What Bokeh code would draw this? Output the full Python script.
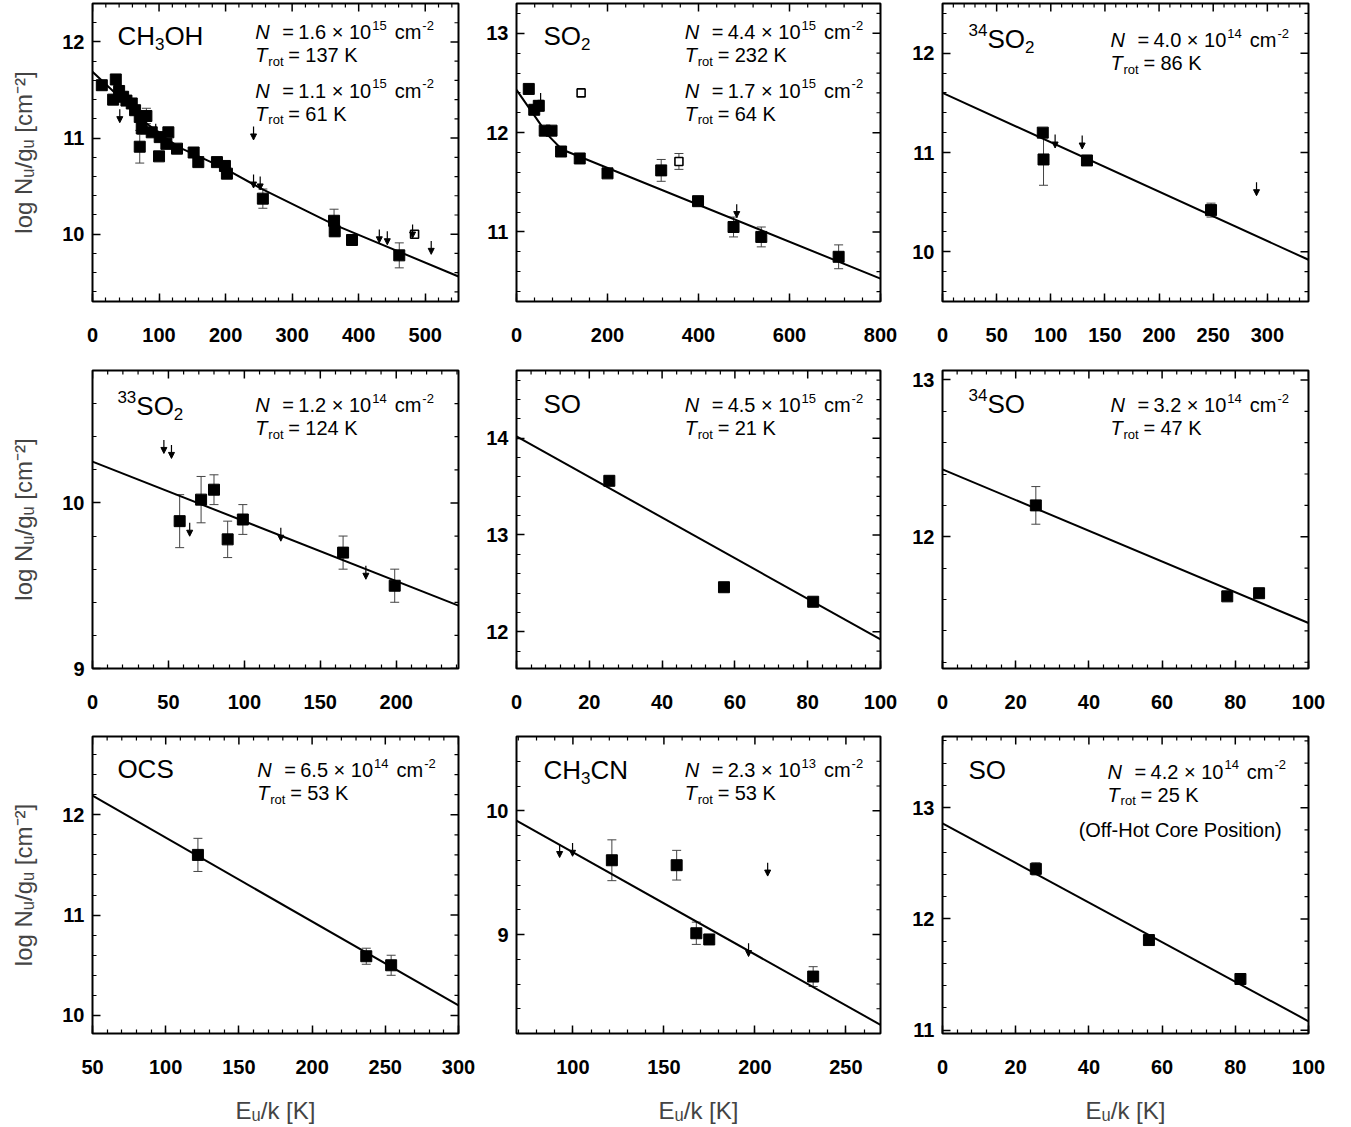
from bokeh.plotting import figure
from bokeh.models import (ColumnDataSource, Label, Whisker, TeeHead, Arrow, NormalHead,
                          LinearAxis, SingleIntervalTicker, Range1d)
from bokeh.layouts import row, column
from bokeh.embed import file_html
from bokeh.resources import INLINE

# ---------------- data ----------------
# CH3OH
ch3oh_E = [14, 31, 35, 40, 46, 51, 59, 64, 71, 71, 74, 81, 89, 100, 101, 111, 114, 127,
           152, 159, 187, 199, 202, 256, 363, 364, 390, 461]
ch3oh_logN = [11.55, 11.40, 11.61, 11.49, 11.43, 11.39, 11.36, 11.29, 11.22, 10.91, 11.10,
              11.23, 11.06, 10.81, 11.01, 10.94, 11.06, 10.89, 10.85, 10.75, 10.75, 10.71,
              10.63, 10.37, 10.14, 10.03, 9.94, 9.78]
ch3oh_err = [0.03, 0.05, 0.03, 0.05, 0.05, 0.04, 0.05, 0.04, 0.05, 0.17, 0.06, 0.08, 0.04,
             0.03, 0.03, 0.03, 0.03, 0.03, 0.03, 0.03, 0.04, 0.05, 0.04, 0.10, 0.12, 0.05,
             0.05, 0.13]
ch3oh_open_E = [484]
ch3oh_open_logN = [10.0]
ch3oh_open_err = [0.0]
ch3oh_ul_E = [41, 95, 242, 242, 252, 431, 443, 481, 509]
ch3oh_ul_logN = [11.30, 11.15, 11.12, 10.62, 10.60, 10.05, 10.03, 10.10, 9.93]
ch3oh_fit_E = [0, 40, 80, 110, 131, 197, 252, 363, 550]
ch3oh_fit_logN = [11.69, 11.43, 11.16, 11.00, 10.90, 10.69, 10.48, 10.10, 9.56]

# SO2
so2_E = [27, 39, 49, 62, 77, 98, 139, 200, 318, 399, 477, 538, 708]
so2_logN = [12.44, 12.23, 12.27, 12.02, 12.02, 11.81, 11.74, 11.59, 11.62, 11.31, 11.05,
            10.95, 10.75]
so2_err = [0.02, 0.03, 0.05, 0.03, 0.03, 0.02, 0.02, 0.02, 0.11, 0.02, 0.10, 0.10, 0.12]
so2_open_E = [142, 357]
so2_open_logN = [12.40, 11.71]
so2_open_err = [0.0, 0.08]
so2_ul_E = [53, 484]
so2_ul_logN = [12.40, 11.28]
so2_fit_E = [0, 70, 100, 800]
so2_fit_logN = [12.43, 11.97, 11.83, 10.53]

# 34SO2
so2_34_E = [92.6, 93.3, 133.4, 248]
so2_34_logN = [11.20, 10.93, 10.92, 10.42]
so2_34_err = [0.03, 0.26, 0.03, 0.07]
so2_34_ul_E = [104, 129, 290]
so2_34_ul_logN = [11.18, 11.17, 10.70]
so2_34_fit_E = [0, 338]
so2_34_fit_logN = [11.60, 9.92]

# 33SO2
so2_33_E = [57.4, 71.5, 80, 89, 99, 165, 199]
so2_33_logN = [9.89, 10.02, 10.08, 9.78, 9.90, 9.70, 9.50]
so2_33_err = [0.16, 0.14, 0.09, 0.11, 0.09, 0.10, 0.10]
so2_33_ul_E = [47, 52, 64, 124, 180]
so2_33_ul_logN = [10.38, 10.35, 9.88, 9.85, 9.62]
so2_33_fit_E = [0, 241]
so2_33_fit_logN = [10.25, 9.38]

# SO
so_E = [25.5, 57, 81.5]
so_logN = [13.56, 12.46, 12.31]
so_err = [0.0, 0.0, 0.0]
so_fit_E = [0, 100]
so_fit_logN = [14.02, 11.92]

# 34SO
so_34_E = [25.5, 77.8, 86.5]
so_34_logN = [12.20, 11.62, 11.64]
so_34_err = [0.12, 0.0, 0.0]
so_34_fit_E = [0, 100]
so_34_fit_logN = [12.43, 11.45]

# OCS
ocs_E = [122, 237, 254]
ocs_logN = [11.60, 10.59, 10.50]
ocs_err = [0.165, 0.08, 0.10]
ocs_fit_E = [50, 300]
ocs_fit_logN = [12.19, 10.10]

# CH3CN
ch3cn_E = [121.4, 157, 167.8, 174.9, 232]
ch3cn_logN = [9.60, 9.56, 9.01, 8.96, 8.66]
ch3cn_err = [0.165, 0.12, 0.09, 0.03, 0.08]
ch3cn_ul_E = [92.7, 99.8, 196.5, 207]
ch3cn_ul_logN = [9.73, 9.74, 8.93, 9.58]
ch3cn_fit_E = [69, 269]
ch3cn_fit_logN = [9.92, 8.27]

# SO (off-hot core position)
sooff_E = [25.5, 56.4, 81.4]
sooff_logN = [12.45, 11.81, 11.46]
sooff_err = [0.055, 0.0, 0.0]
sooff_fit_E = [0, 100]
sooff_fit_logN = [12.86, 11.08]

# fit results printed in each panel: (mantissa, exponent, T_rot)
ch3oh_fit_text = [("1.6", "15", "137"), ("1.1", "15", "61")]
so2_fit_text = [("4.4", "15", "232"), ("1.7", "15", "64")]
so2_34_fit_text = [("4.0", "14", "86")]
so2_33_fit_text = [("1.2", "14", "124")]
so_fit_text = [("4.5", "15", "21")]
so_34_fit_text = [("3.2", "14", "47")]
ocs_fit_text = [("6.5", "14", "53")]
ch3cn_fit_text = [("2.3", "13", "53")]
sooff_fit_text = [("4.2", "14", "25")]

# ---------------- styling helpers ----------------
FONT = "Liberation Sans"
W = {'0': .556, '1': .556, '2': .556, '3': .556, '4': .556, '5': .556, '6': .556,
     '7': .556, '8': .556, '9': .556, '.': .278, ' ': .278, '×': .584, '=': .584,
     'c': .5, 'm': .833, '-': .333, 'K': .667, 'N': .722, 'T': .611, 'r': .333,
     'o': .556, 't': .278, 'C': .722, 'H': .722, 'O': .778, 'S': .667}


def tw(s, size):
    return sum(W.get(ch, 0.556) for ch in s) * size


def put(p, x, y, text, dx, dy, size, style="normal"):
    p.add_layout(Label(x=x, y=y, x_offset=dx, y_offset=dy, text=text,
                       text_font=FONT, text_font_size=f"{size}px",
                       text_font_style=style, text_baseline="middle",
                       text_align="left", text_color="black"))


def species(p, x, y, pieces, size=26):
    cx = 0
    small = 17
    for t, k in pieces:
        if k == "n":
            put(p, x, y, t, cx, 0, size)
            cx += tw(t, size)
        elif k == "sub":
            put(p, x, y, t, cx, -8, small)
            cx += tw(t, small)
        else:
            put(p, x, y, t, cx, 9, small)
            cx += tw(t, small)


def nt_block(p, x, y, mant, expo, temp, fs=20, ss=13):
    put(p, x, y, "N", 0, 0, fs, "italic")
    put(p, x, y, "=", 27, 0, fs)
    main = mant + " × 10"
    put(p, x, y, main, 43, 0, fs)
    cx = 43 + tw(main, fs) + 1
    put(p, x, y, expo, cx, 7, ss)
    cx += tw(expo, ss) + 8
    put(p, x, y, "cm", cx, 0, fs)
    cx += tw("cm", fs) + 1
    put(p, x, y, "-2", cx, 7, ss)
    put(p, x, y, "T", 0, -23, fs, "italic")
    put(p, x, y, "rot", 13, -29, ss)
    put(p, x, y, "=", 33, -23, fs)
    put(p, x, y, temp + " K", 50, -23, fs)


specs = [
    dict(E=ch3oh_E, y=ch3oh_logN, err=ch3oh_err, oE=ch3oh_open_E, oy=ch3oh_open_logN,
         oerr=ch3oh_open_err, uE=ch3oh_ul_E, uy=ch3oh_ul_logN, fE=ch3oh_fit_E,
         fy=ch3oh_fit_logN, xr=(0, 550), yr=(9.3, 12.4), xt=100,
         name=[("CH", "n"), ("3", "sub"), ("OH", "n")], sp=(0.068, 0.11),
         nt=ch3oh_fit_text, ntx=0.445, nty=[0.097, 0.292]),
    dict(E=so2_E, y=so2_logN, err=so2_err, oE=so2_open_E, oy=so2_open_logN,
         oerr=so2_open_err, uE=so2_ul_E, uy=so2_ul_logN, fE=so2_fit_E, fy=so2_fit_logN,
         xr=(0, 800), yr=(10.3, 13.3), xt=200,
         name=[("SO", "n"), ("2", "sub")], sp=(0.074, 0.11),
         nt=so2_fit_text, ntx=0.462, nty=[0.097, 0.292]),
    dict(E=so2_34_E, y=so2_34_logN, err=so2_34_err, uE=so2_34_ul_E, uy=so2_34_ul_logN,
         fE=so2_34_fit_E, fy=so2_34_fit_logN, xr=(0, 338), yr=(9.5, 12.5), xt=50,
         name=[("34", "sup"), ("SO", "n"), ("2", "sub")], sp=(0.071, 0.12),
         nt=so2_34_fit_text, ntx=0.459, nty=[0.124]),
    dict(E=so2_33_E, y=so2_33_logN, err=so2_33_err, uE=so2_33_ul_E, uy=so2_33_ul_logN,
         fE=so2_33_fit_E, fy=so2_33_fit_logN, xr=(0, 241), yr=(9.0, 10.8), xt=50,
         name=[("33", "sup"), ("SO", "n"), ("2", "sub")], sp=(0.068, 0.12),
         nt=so2_33_fit_text, ntx=0.445, nty=[0.117]),
    dict(E=so_E, y=so_logN, err=so_err, fE=so_fit_E, fy=so_fit_logN,
         xr=(0, 100), yr=(11.62, 14.7), xt=20,
         name=[("SO", "n")], sp=(0.074, 0.111),
         nt=so_fit_text, ntx=0.462, nty=[0.117]),
    dict(E=so_34_E, y=so_34_logN, err=so_34_err, fE=so_34_fit_E, fy=so_34_fit_logN,
         xr=(0, 100), yr=(11.16, 13.06), xt=20,
         name=[("34", "sup"), ("SO", "n")], sp=(0.071, 0.111),
         nt=so_34_fit_text, ntx=0.459, nty=[0.117]),
    dict(E=ocs_E, y=ocs_logN, err=ocs_err, fE=ocs_fit_E, fy=ocs_fit_logN,
         xr=(50, 300), yr=(9.82, 12.78), xt=50,
         name=[("OCS", "n")], sp=(0.068, 0.108),
         nt=ocs_fit_text, ntx=0.45, nty=[0.114]),
    dict(E=ch3cn_E, y=ch3cn_logN, err=ch3cn_err, uE=ch3cn_ul_E, uy=ch3cn_ul_logN,
         fE=ch3cn_fit_E, fy=ch3cn_fit_logN, xr=(69, 269), yr=(8.2, 10.6), xt=50,
         name=[("CH", "n"), ("3", "sub"), ("CN", "n")], sp=(0.074, 0.114),
         nt=ch3cn_fit_text, ntx=0.462, nty=[0.114]),
    dict(E=sooff_E, y=sooff_logN, err=sooff_err, fE=sooff_fit_E, fy=sooff_fit_logN,
         xr=(0, 100), yr=(10.97, 13.64), xt=20,
         name=[("SO", "n")], sp=(0.071, 0.114),
         nt=sooff_fit_text, ntx=0.451, nty=[0.118],
         extra=("(Off-Hot Core Position)", 0.372, 0.316)),
]

FW = [366, 364, 366]
BL = [92, 40, 40]
BR = [18, 22, 20]
FH = [298, 298, 297]
BT = [3, 8, 10]
BB = [61, 58, 90]


def style_axis(ax, loc):
    ax.axis_line_color = None
    ax.major_tick_in = 8
    ax.major_tick_out = 0
    ax.minor_tick_in = 4
    ax.minor_tick_out = 0
    ax.major_tick_line_width = 1.5
    ax.minor_tick_line_width = 1.2
    ax.major_tick_line_color = "black"
    ax.minor_tick_line_color = "black"
    ax.major_label_text_font = FONT
    ax.major_label_text_font_style = "bold"
    ax.major_label_text_font_size = "20px"
    ax.major_label_text_color = "black"
    ax.major_label_standoff = 26 if loc == "below" else 8


def tick_values(a, b, step):
    out = []
    k0 = int(a // step) - 1
    k1 = int(b // step) + 2
    for k in range(k0, k1):
        v = round(k * step, 6)
        if a - 1e-9 <= v <= b + 1e-9:
            out.append(v)
    return out


def make_panel(s, ci, ri):
    x0, x1 = s["xr"]
    y0, y1 = s["yr"]
    p = figure(x_range=Range1d(x0, x1), y_range=Range1d(y0, y1),
               frame_width=FW[ci], frame_height=FH[ri],
               min_border_left=BL[ci], min_border_right=BR[ci],
               min_border_top=BT[ri], min_border_bottom=BB[ri],
               x_axis_type=None, y_axis_type=None,
               output_backend="svg", toolbar_location=None)
    p.outline_line_color = "black"
    p.outline_line_width = 2
    p.background_fill_color = "white"
    p.border_fill_color = "white"

    xb = LinearAxis(ticker=SingleIntervalTicker(interval=s["xt"], num_minor_ticks=5))
    style_axis(xb, "below")
    if ri == 2:
        xb.axis_label = "Eᵤ/k [K]"
        xb.axis_label_text_font = FONT
        xb.axis_label_text_font_size = "24px"
        xb.axis_label_text_font_style = "normal"
        xb.axis_label_standoff = 20
    p.add_layout(xb, "below")

    yl = LinearAxis(ticker=SingleIntervalTicker(interval=1, num_minor_ticks=5))
    style_axis(yl, "left")
    if ci == 0:
        yl.axis_label = "log Nᵤ/gᵤ [cm⁻²]"
        yl.axis_label_text_font = FONT
        yl.axis_label_text_font_size = "24px"
        yl.axis_label_text_font_style = "normal"
        yl.axis_label_standoff = 22
    p.add_layout(yl, "left")

    # mirrored inward ticks on the top and right edges
    dy_maj = 8 * (y1 - y0) / FH[ri]
    dy_min = 4 * (y1 - y0) / FH[ri]
    dx_maj = 8 * (x1 - x0) / FW[ci]
    dx_min = 4 * (x1 - x0) / FW[ci]
    xmaj = tick_values(x0, x1, s["xt"])
    xmin = [v for v in tick_values(x0, x1, s["xt"] / 5) if v not in xmaj]
    ymaj = tick_values(y0, y1, 1)
    ymin = [v for v in tick_values(y0, y1, 0.2) if all(abs(v - m) > 1e-6 for m in ymaj)]
    p.segment(x0=xmaj, y0=[y1] * len(xmaj), x1=xmaj, y1=[y1 - dy_maj] * len(xmaj),
              line_color="black", line_width=1.5)
    p.segment(x0=xmin, y0=[y1] * len(xmin), x1=xmin, y1=[y1 - dy_min] * len(xmin),
              line_color="black", line_width=1.2)
    p.segment(x0=[x1] * len(ymaj), y0=ymaj, x1=[x1 - dx_maj] * len(ymaj), y1=ymaj,
              line_color="black", line_width=1.5)
    p.segment(x0=[x1] * len(ymin), y0=ymin, x1=[x1 - dx_min] * len(ymin), y1=ymin,
              line_color="black", line_width=1.2)

    # error bars
    def whiskers(xs, ys, es):
        sel = [(a, b, e) for a, b, e in zip(xs, ys, es) if e > 0]
        if not sel:
            return
        src = ColumnDataSource(dict(x=[a for a, b, e in sel],
                                    lo=[b - e for a, b, e in sel],
                                    hi=[b + e for a, b, e in sel]))
        p.add_layout(Whisker(source=src, base="x", lower="lo", upper="hi",
                             dimension="height", line_color="#444", line_width=1,
                             upper_head=TeeHead(size=9, line_color="#444", line_width=1),
                             lower_head=TeeHead(size=9, line_color="#444", line_width=1)))

    whiskers(s["E"], s["y"], s["err"])
    if "oE" in s:
        whiskers(s["oE"], s["oy"], s["oerr"])

    # fit line
    p.line(s["fE"], s["fy"], line_color="black", line_width=2)

    # upper limits
    if "uE" in s:
        L = 0.045 * (y1 - y0)
        src = ColumnDataSource(dict(x=s["uE"], ya=s["uy"], yb=[v - L for v in s["uy"]]))
        p.add_layout(Arrow(source=src, x_start="x", y_start="ya", x_end="x", y_end="yb",
                           line_color="black", line_width=1.2,
                           end=NormalHead(size=6, fill_color="black",
                                          line_color="black", line_width=1)))

    # detections
    p.scatter(s["E"], s["y"], marker="square", size=11, fill_color="black",
              line_color="black")
    if "oE" in s:
        p.scatter(s["oE"], s["oy"], marker="square", size=8, fill_color="white",
                  line_color="black", line_width=1.6)

    # texts
    fx, fyy = s["sp"]
    species(p, x0 + fx * (x1 - x0), y1 - fyy * (y1 - y0), s["name"])
    for (mant, expo, temp), fy in zip(s["nt"], s["nty"]):
        nt_block(p, x0 + s["ntx"] * (x1 - x0), y1 - fy * (y1 - y0), mant, expo, temp)
    if "extra" in s:
        t, ex, ey = s["extra"]
        put(p, x0 + ex * (x1 - x0), y1 - ey * (y1 - y0), t, 0, 0, 20)
    return p


rows = []
for ri in range(3):
    figs = [make_panel(specs[ri * 3 + ci], ci, ri) for ci in range(3)]
    rows.append(row(*figs))
layout = column(*rows)

open("out.html", "w").write(file_html(layout, INLINE))
